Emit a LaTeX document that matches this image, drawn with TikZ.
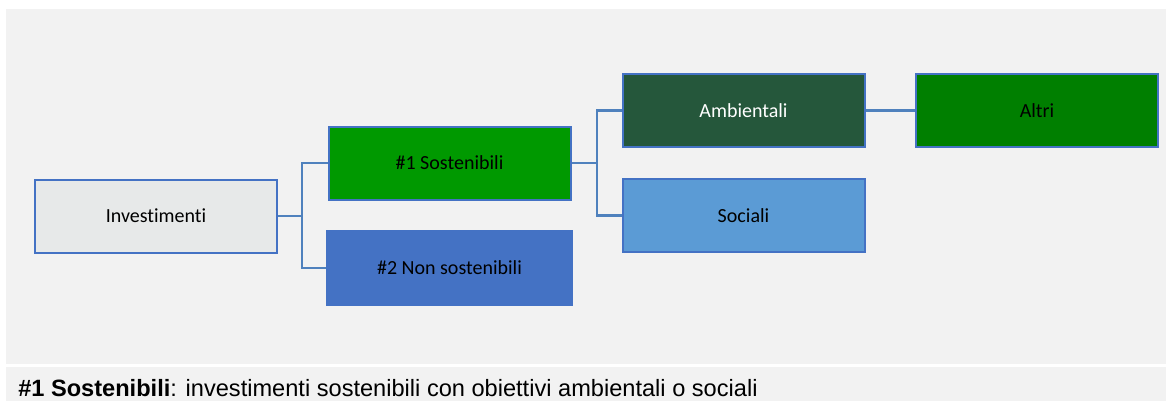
\documentclass[tikz,border=0pt]{standalone}
\usepackage{fontspec}
\usepackage{xcolor}
\usepackage{tikz}
\setmainfont{Carlito}[Ligatures=NoCommon]
\newfontfamily\notefont{Liberation Sans}

\definecolor{panel}{HTML}{F2F2F2}
\definecolor{edgeblue}{HTML}{4472C4}
\definecolor{linkblue}{HTML}{4F81BD}
\definecolor{invgrey}{HTML}{E7E9E9}
\definecolor{sostgreen}{HTML}{009900}
\definecolor{ambgreen}{HTML}{25573B}
\definecolor{altrigreen}{HTML}{007F00}
\definecolor{socblue}{HTML}{5B9BD5}

\tikzset{
    box/.style={draw=edgeblue, line width=1.5pt, minimum width=181.5pt,
        minimum height=54.75pt, inner sep=0pt,
        font=\fontsize{15pt}{18pt}\selectfont},
    link/.style={draw=linkblue, line width=1.6pt},
}

\begin{document}
\begin{tikzpicture}[x=0.75pt, y=-0.75pt]

    \useasboundingbox (0,0) rectangle (1166,401);
    \fill[panel] (6,9) rectangle (1166,364);
    \fill[panel] (6,367) rectangle (1166,401);

    % boxes
    \node[box, fill=invgrey]    (inv)   at (156,216)    {Investimenti};
    \node[box, fill=sostgreen]  (sost)  at (449.5,163)  {\#1 Sostenibili};
    \node[box, fill=edgeblue, minimum width=184pt, minimum height=56pt]
                                (nons)  at (449.5,268)  {\#2 Non sostenibili};
    \node[box, fill=ambgreen, text=white] (amb) at (743.5,110.5) {Ambientali};
    \node[box, fill=socblue]    (soc)   at (743.5,215.5) {Sociali};
    \node[box, fill=altrigreen] (altri) at (1037,110.5) {Altri};

    % connectors
    \coordinate (j1) at (302,216);
    \coordinate (j2) at (597,163);
    \draw[link] (inv.east) -- (j1);
    \draw[link] (j1) |- (sost.west);
    \draw[link] (j1) |- (nons.west);
    \draw[link] (sost.east) -- (j2);
    \draw[link] (j2) |- (amb.west);
    \draw[link] (j2) |- (soc.west);
    \draw[link] (amb.east) -- (altri.west);

    \node[anchor=base west, inner sep=0pt, font=\notefont\fontsize{17.7pt}{21pt}\selectfont]
        (note) at (18,396) {\textbf{\#1 Sostenibili}: investimenti sostenibili con obiettivi ambientali o sociali};

\end{tikzpicture}
\end{document}
